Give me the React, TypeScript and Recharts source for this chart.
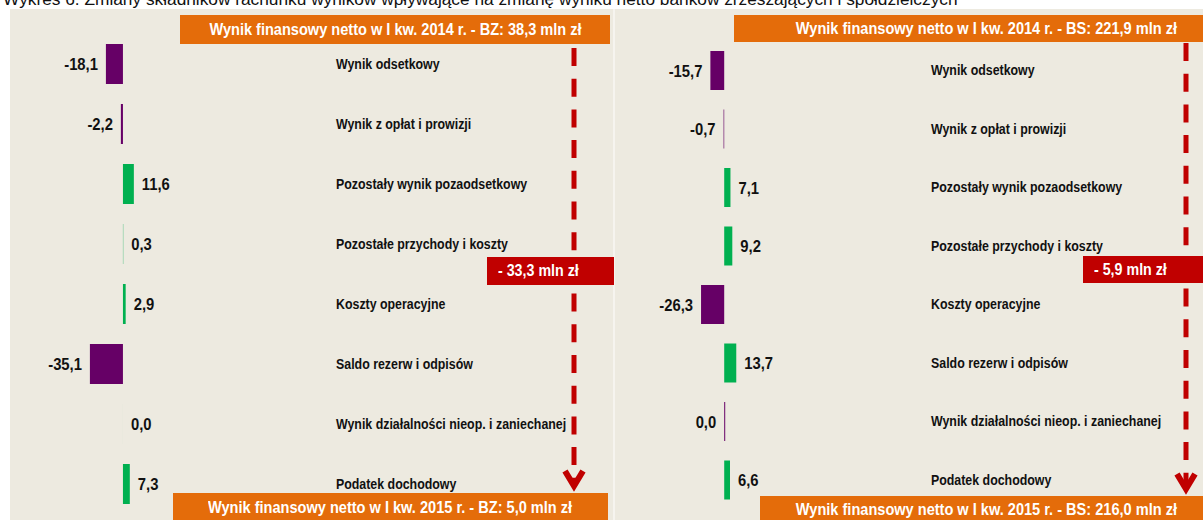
import React from 'react';
import { BarChart, Bar, XAxis, YAxis, Cell, LabelList } from 'recharts';

// categories shared by both panels
const categories = [
  'Wynik odsetkowy',
  'Wynik z opłat i prowizji',
  'Pozostały wynik pozaodsetkowy',
  'Pozostałe przychody i koszty',
  'Koszty operacyjne',
  'Saldo rezerw i odpisów',
  'Wynik działalności nieop. i zaniechanej',
  'Podatek dochodowy',
];

// mln zł, banki zrzeszające (BZ)
const bzValues = [-18.1, -2.2, 11.6, 0.3, 2.9, -35.1, 0.0, 7.3];
// mln zł, banki spółdzielcze (BS) - the 0,0 is drawn as a (tiny) negative
const bsValues = [-15.7, -0.7, 7.1, 9.2, -26.3, 13.7, -0.0, 6.6];

const bzNet = [38.3, 5.0]; // I kw. 2014, I kw. 2015
const bsNet = [221.9, 216.0];

const TITLE =
  'Wykres 6. Zmiany składników rachunku wyników wpływające na zmianę wyniku netto banków zrzeszających i spółdzielczych';

// no narrow font installed, so bold sans is squeezed horizontally instead
const FONT = '"Liberation Sans", Arial, sans-serif';
const PURPLE = '#660066';
const GREEN = '#00B050';
const ORANGE = '#E46C0A';
const RED = '#C00000';
const BEIGE = '#EDEAE0';

const isNeg = (v: number) => v < 0 || Object.is(v, -0);
const fmt = (v: number) => Math.abs(v).toFixed(1).replace('.', ',');
const fmtSigned = (v: number) => (v < 0 ? '-' : '') + fmt(v);

// -0 gets a 1px purple hairline, +0 an invisible sliver so its label still shows
const minSize = (v: any) => (Object.is(v, -0) ? 1 : v === 0 ? 0.01 : 0);

const CatTick = (props: any) => {
  const { x, y, payload } = props;
  return (
    <text
      transform={`translate(${x},${y}) scale(0.885,1)`}
      dy="0.35em"
      textAnchor="start"
      fontSize={14}
      fontWeight={700}
      fontFamily={FONT}
      fill="#111"
    >
      {payload.value}
    </text>
  );
};

const renderValue = (p: any) => {
  const { x, y, width, height } = p;
  const v = Array.isArray(p.value) ? p.value[1] : p.value;
  const neg = isNeg(v);
  const left = Math.min(+x, +x + +width);
  const right = Math.max(+x, +x + +width);
  const tx = neg ? left - 8 : right + 8;
  const ty = +y + +height / 2;
  return (
    <text
      transform={`translate(${tx},${ty}) scale(0.87,1)`}
      dy="0.36em"
      textAnchor={neg ? 'end' : 'start'}
      fontSize={17}
      fontWeight={700}
      fontFamily={FONT}
      fill="#111"
    >
      {fmtSigned(v)}
    </text>
  );
};

type Rect = { left: number; top: number; width: number; height: number };

type PanelProps = {
  values: number[];
  code: string;
  net: number[];
  left: number;
  width: number;
  marginTop: number;
  marginBottom: number;
  plotWidth: number;
  domain: [number, number];
  barSize: number;
  topBox: Rect;
  bottomBox: Rect;
  redBox: Rect;
  dashX: number;
  dashTop: number;
  tipY: number;
};

const Box = ({ b, bg, children, align = 'center', squeeze = 0.91 }: any) => (
  <div
    style={{
      position: 'absolute',
      left: b.left,
      top: b.top,
      width: b.width,
      height: b.height,
      background: bg,
      color: '#fff',
      fontFamily: FONT,
      fontWeight: 700,
      fontSize: 16,
      lineHeight: b.height + 'px',
      textAlign: align,
      paddingLeft: align === 'left' ? 11 : 0,
      boxSizing: 'border-box',
      whiteSpace: 'nowrap',
    }}
  >
    <span
      style={{
        display: 'inline-block',
        transform: `scaleX(${squeeze})`,
        transformOrigin: align === 'left' ? 'left center' : 'center center',
      }}
    >
      {children}
    </span>
  </div>
);

const Panel = (p: PanelProps) => {
  const data = categories.map((name, i) => ({ name, value: p.values[i] }));
  const change = p.net[1] - p.net[0];
  const vx = p.tipY - 7; // vertex of the arrow head
  return (
    <>
      <div style={{ position: 'absolute', left: p.left, top: 9, width: p.width, height: 511, background: BEIGE }}>
        <BarChart
          width={p.width}
          height={511}
          data={data}
          layout="vertical"
          margin={{ top: p.marginTop, bottom: p.marginBottom, left: 0, right: 0 }}
        >
          <XAxis type="number" hide domain={p.domain} allowDataOverflow />
          <YAxis
            type="category"
            dataKey="name"
            orientation="right"
            width={p.width - p.plotWidth}
            axisLine={false}
            tickLine={false}
            tickSize={0}
            tickMargin={6}
            interval={0}
            tick={<CatTick />}
          />
          <Bar dataKey="value" barSize={p.barSize} isAnimationActive={false} minPointSize={minSize}>
            {data.map((d, i) => (
              <Cell key={i} fill={isNeg(d.value) ? PURPLE : GREEN} />
            ))}
            <LabelList dataKey="value" content={renderValue} />
          </Bar>
        </BarChart>
      </div>
      <svg
        width={1203}
        height={520}
        style={{ position: 'absolute', left: 0, top: 0, pointerEvents: 'none' }}
      >
        <line
          x1={p.dashX}
          x2={p.dashX}
          y1={p.dashTop}
          y2={vx}
          stroke={RED}
          strokeWidth={5}
          strokeDasharray="18 12.7"
        />
        <polyline
          points={`${p.dashX - 9},${vx - 15} ${p.dashX},${vx} ${p.dashX + 9},${vx - 15}`}
          fill="none"
          stroke={RED}
          strokeWidth={6}
          strokeLinejoin="miter"
        />
      </svg>
      <Box b={p.redBox} bg={RED} align="left" squeeze={0.89}>
        - {fmt(change)} mln zł
      </Box>
      <Box b={p.topBox} bg={ORANGE}>
        Wynik finansowy netto w I kw. 2014 r. - {p.code}: {fmt(p.net[0])} mln zł
      </Box>
      <Box b={p.bottomBox} bg={ORANGE}>
        Wynik finansowy netto w I kw. 2015 r. - {p.code}: {fmt(p.net[1])} mln zł
      </Box>
    </>
  );
};

export default function App() {
  return (
    <div
      style={{
        position: 'absolute',
        left: 0,
        top: 0,
        width: 1203,
        height: 520,
        overflow: 'hidden',
        background: '#fff',
      }}
    >
      <div style={{ position: 'absolute', left: 613, top: 9, width: 2, height: 511, background: '#F6F4EF' }} />
      <Panel
        values={bzValues}
        code="BZ"
        net={bzNet}
        left={10}
        width={603}
        marginTop={25}
        marginBottom={6}
        plotWidth={320}
        domain={[-120, 220]}
        barSize={40}
        topBox={{ left: 180, top: 15, width: 430, height: 29 }}
        bottomBox={{ left: 173, top: 493, width: 435, height: 30 }}
        redBox={{ left: 487, top: 257, width: 127, height: 28 }}
        dashX={574}
        dashTop={48}
        tipY={493}
      />
      <Panel
        values={bsValues}
        code="BS"
        net={bsNet}
        left={615}
        width={588}
        marginTop={32}
        marginBottom={11}
        plotWidth={310}
        domain={[-124, 228]}
        barSize={39}
        topBox={{ left: 734, top: 15, width: 504, height: 27 }}
        bottomBox={{ left: 760, top: 496, width: 452, height: 28 }}
        redBox={{ left: 1083, top: 256, width: 125, height: 27 }}
        dashX={1186}
        dashTop={43}
        tipY={496}
      />
      <svg width={1203} height={20} style={{ position: 'absolute', left: 0, top: 0 }}>
        <text x={3} y={5} fontSize={17.3} fontFamily={FONT} fill="#111">
          {TITLE}
        </text>
      </svg>
    </div>
  );
}
